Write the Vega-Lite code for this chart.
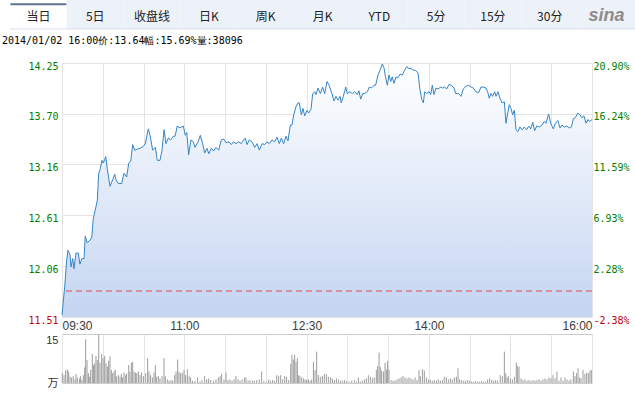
{
  "$schema": "https://vega.github.io/schema/vega-lite/v6.json",
  "padding": {"left": 2, "top": 0, "right": 0, "bottom": 0},
  "bounds": "flush",
  "spacing": 17,
  "config": {
    "view": {"stroke": "#cccccc"},
    "background": "#ffffff",
    "axis": {"domain": false, "ticks": false, "title": null}
  },
  "datasets": {
    "price": [
      {"m":0,"p":11.53},{"m":2.0,"p":11.84},{"m":3.5,"p":12.13},{"m":4.4,"p":12.23},{"m":5.9,"p":12.18},{"m":6.6,"p":12.05},{"m":7.9,"p":12.14},{"m":8.8,"p":12.03},{"m":10.3,"p":12.20},{"m":12.0,"p":12.20},{"m":13.2,"p":12.08},{"m":14.7,"p":12.14},{"m":16.2,"p":12.14},{"m":17.1,"p":12.38},{"m":18.6,"p":12.31},{"m":20.6,"p":12.34},{"m":21.9,"p":12.37},{"m":23.0,"p":12.57},{"m":25.0,"p":12.70},{"m":26.0,"p":12.77},{"m":27.0,"p":13.06},{"m":28.0,"p":13.10},{"m":29.4,"p":13.20},{"m":30.4,"p":13.17},{"m":32.2,"p":13.24},{"m":33.3,"p":13.11},{"m":35.3,"p":12.92},{"m":37.3,"p":12.99},{"m":38.8,"p":13.05},{"m":39.7,"p":12.99},{"m":41.4,"p":12.95},{"m":43.9,"p":12.95},{"m":45.6,"p":13.06},{"m":47.6,"p":13.02},{"m":49.1,"p":13.17},{"m":50.6,"p":13.19},{"m":52.0,"p":13.37},{"m":53.5,"p":13.31},{"m":55.4,"p":13.32},{"m":57.4,"p":13.33},{"m":59.8,"p":13.35},{"m":61.3,"p":13.38},{"m":63.5,"p":13.54},{"m":64.8,"p":13.47},{"m":66.7,"p":13.31},{"m":68.7,"p":13.34},{"m":70.1,"p":13.20},{"m":72.1,"p":13.20},{"m":73.6,"p":13.31},{"m":75.1,"p":13.53},{"m":76.5,"p":13.38},{"m":78.2,"p":13.44},{"m":80.0,"p":13.42},{"m":81.9,"p":13.46},{"m":83.2,"p":13.46},{"m":84.8,"p":13.57},{"m":86.8,"p":13.55},{"m":89.3,"p":13.57},{"m":90.7,"p":13.47},{"m":91.8,"p":13.50},{"m":93.2,"p":13.26},{"m":94.9,"p":13.42},{"m":96.6,"p":13.40},{"m":97.9,"p":13.34},{"m":100.1,"p":13.40},{"m":101.8,"p":13.47},{"m":103.5,"p":13.38},{"m":105.0,"p":13.28},{"m":106.7,"p":13.33},{"m":108.0,"p":13.27},{"m":109.9,"p":13.33},{"m":111.6,"p":13.30},{"m":113.3,"p":13.34},{"m":115.3,"p":13.31},{"m":117.2,"p":13.42},{"m":119.0,"p":13.43},{"m":120.7,"p":13.39},{"m":122.7,"p":13.40},{"m":124.6,"p":13.37},{"m":126.3,"p":13.40},{"m":128.0,"p":13.38},{"m":130.0,"p":13.40},{"m":131.9,"p":13.38},{"m":133.7,"p":13.42},{"m":134.9,"p":13.44},{"m":136.1,"p":13.37},{"m":137.8,"p":13.42},{"m":139.8,"p":13.40},{"m":141.8,"p":13.34},{"m":143.5,"p":13.38},{"m":145.2,"p":13.31},{"m":147.2,"p":13.38},{"m":149.2,"p":13.37},{"m":150.8,"p":13.40},{"m":152.5,"p":13.38},{"m":154.5,"p":13.42},{"m":156.5,"p":13.40},{"m":158.2,"p":13.45},{"m":159.9,"p":13.38},{"m":161.4,"p":13.44},{"m":163.1,"p":13.38},{"m":164.8,"p":13.46},{"m":166.3,"p":13.41},{"m":168.0,"p":13.58},{"m":169.2,"p":13.58},{"m":170.5,"p":13.69},{"m":172.2,"p":13.78},{"m":173.7,"p":13.82},{"m":174.6,"p":13.82},{"m":176.1,"p":13.69},{"m":177.3,"p":13.76},{"m":178.6,"p":13.68},{"m":180.3,"p":13.74},{"m":181.5,"p":13.71},{"m":183.2,"p":13.75},{"m":184.5,"p":13.92},{"m":186.0,"p":13.94},{"m":186.9,"p":13.91},{"m":188.4,"p":13.98},{"m":190.1,"p":13.92},{"m":191.8,"p":13.99},{"m":193.3,"p":13.92},{"m":195.0,"p":14.05},{"m":196.5,"p":14.01},{"m":198.2,"p":13.94},{"m":200.2,"p":13.84},{"m":201.6,"p":13.89},{"m":203.1,"p":13.85},{"m":204.6,"p":13.89},{"m":205.5,"p":13.82},{"m":207.0,"p":13.89},{"m":208.8,"p":13.99},{"m":209.9,"p":13.92},{"m":211.9,"p":13.94},{"m":213.6,"p":13.92},{"m":215.4,"p":13.94},{"m":217.3,"p":13.91},{"m":218.5,"p":13.95},{"m":219.8,"p":13.86},{"m":221.3,"p":13.92},{"m":222.7,"p":13.92},{"m":224.7,"p":13.94},{"m":226.1,"p":13.99},{"m":227.6,"p":13.98},{"m":229.6,"p":14.01},{"m":230.8,"p":14.01},{"m":232.5,"p":14.12},{"m":234.0,"p":14.17},{"m":235.7,"p":14.24},{"m":236.9,"p":14.20},{"m":238.2,"p":14.09},{"m":239.4,"p":14.01},{"m":240.6,"p":14.12},{"m":241.9,"p":14.05},{"m":243.0,"p":14.10},{"m":244.3,"p":14.03},{"m":245.8,"p":14.10},{"m":247.2,"p":14.09},{"m":248.7,"p":14.13},{"m":250.4,"p":14.12},{"m":251.7,"p":14.16},{"m":253.6,"p":14.21},{"m":255.3,"p":14.19},{"m":257.0,"p":14.19},{"m":259.0,"p":14.17},{"m":260.3,"p":14.17},{"m":262.0,"p":14.14},{"m":263.4,"p":13.96},{"m":264.7,"p":13.86},{"m":265.9,"p":13.82},{"m":266.9,"p":13.94},{"m":268.4,"p":13.92},{"m":270.1,"p":13.94},{"m":271.3,"p":13.91},{"m":272.5,"p":14.01},{"m":273.7,"p":13.91},{"m":275.2,"p":13.98},{"m":276.7,"p":13.97},{"m":278.7,"p":13.99},{"m":280.1,"p":13.98},{"m":281.6,"p":13.99},{"m":283.1,"p":13.97},{"m":284.8,"p":14.02},{"m":286.5,"p":14.01},{"m":288.5,"p":13.98},{"m":289.7,"p":13.92},{"m":291.9,"p":13.92},{"m":293.6,"p":13.89},{"m":295.3,"p":13.97},{"m":297.3,"p":14.00},{"m":299.3,"p":14.01},{"m":301.0,"p":13.99},{"m":302.7,"p":13.98},{"m":304.6,"p":13.94},{"m":306.6,"p":13.93},{"m":308.3,"p":13.99},{"m":310.0,"p":13.99},{"m":312.0,"p":13.98},{"m":313.2,"p":13.94},{"m":314.4,"p":13.87},{"m":315.7,"p":13.92},{"m":316.9,"p":13.89},{"m":318.4,"p":13.94},{"m":319.4,"p":13.89},{"m":320.8,"p":13.94},{"m":322.3,"p":13.87},{"m":323.8,"p":13.82},{"m":325.5,"p":13.83},{"m":326.7,"p":13.60},{"m":328.0,"p":13.71},{"m":329.1,"p":13.80},{"m":330.4,"p":13.76},{"m":331.6,"p":13.69},{"m":332.8,"p":13.74},{"m":334.1,"p":13.53},{"m":335.5,"p":13.51},{"m":337.0,"p":13.56},{"m":338.5,"p":13.53},{"m":340.2,"p":13.56},{"m":341.9,"p":13.53},{"m":343.4,"p":13.57},{"m":344.9,"p":13.54},{"m":346.4,"p":13.61},{"m":347.8,"p":13.52},{"m":349.3,"p":13.57},{"m":351.2,"p":13.56},{"m":353.2,"p":13.58},{"m":354.9,"p":13.62},{"m":356.1,"p":13.60},{"m":358.1,"p":13.70},{"m":359.6,"p":13.60},{"m":361.5,"p":13.54},{"m":363.0,"p":13.60},{"m":364.8,"p":13.63},{"m":366.5,"p":13.55},{"m":367.9,"p":13.58},{"m":369.6,"p":13.56},{"m":371.4,"p":13.57},{"m":373.3,"p":13.55},{"m":374.8,"p":13.56},{"m":376.3,"p":13.65},{"m":377.7,"p":13.66},{"m":379.5,"p":13.71},{"m":381.2,"p":13.69},{"m":382.6,"p":13.66},{"m":384.1,"p":13.68},{"m":385.6,"p":13.60},{"m":387.1,"p":13.64},{"m":388.1,"p":13.62},{"m":390,"p":13.64}
    ],
    "vol": [
      {"m":0.2,"v":3.0},{"m":1.5,"v":2.4},{"m":2.7,"v":3.8},{"m":3.9,"v":4.2},{"m":4.9,"v":3.5},{"m":5.9,"v":1.9},{"m":7.1,"v":1.7},{"m":8.3,"v":2.1},{"m":9.6,"v":1.1},{"m":10.3,"v":2.8},{"m":11.3,"v":1.7},{"m":12.8,"v":1.4},{"m":13.7,"v":2.1},{"m":14.7,"v":0.9},{"m":15.7,"v":2.4},{"m":16.7,"v":4.8},{"m":17.4,"v":13.4},{"m":18.4,"v":7.0},{"m":19.4,"v":3.0},{"m":20.1,"v":1.9},{"m":21.1,"v":4.0},{"m":22.3,"v":8.9},{"m":23.1,"v":5.5},{"m":24.0,"v":6.0},{"m":25.0,"v":8.3},{"m":26.0,"v":7.0},{"m":27.0,"v":14.8},{"m":28.0,"v":6.2},{"m":29.2,"v":8.9},{"m":30.2,"v":7.6},{"m":31.4,"v":8.3},{"m":32.4,"v":6.0},{"m":33.4,"v":5.0},{"m":34.3,"v":6.8},{"m":35.3,"v":8.1},{"m":36.3,"v":4.0},{"m":37.3,"v":3.0},{"m":38.3,"v":3.5},{"m":39.2,"v":4.0},{"m":40.2,"v":2.1},{"m":41.5,"v":2.4},{"m":42.7,"v":1.9},{"m":43.7,"v":2.8},{"m":44.6,"v":1.7},{"m":45.6,"v":3.2},{"m":46.6,"v":2.4},{"m":47.6,"v":3.0},{"m":49.1,"v":5.5},{"m":50.0,"v":3.5},{"m":51.0,"v":6.2},{"m":52.0,"v":6.5},{"m":53.0,"v":3.5},{"m":54.0,"v":3.2},{"m":55.0,"v":3.0},{"m":56.2,"v":3.5},{"m":57.4,"v":2.4},{"m":58.6,"v":3.2},{"m":59.9,"v":2.1},{"m":61.6,"v":3.0},{"m":63.0,"v":7.6},{"m":64.0,"v":3.5},{"m":65.2,"v":2.4},{"m":66.5,"v":1.7},{"m":67.7,"v":3.2},{"m":68.7,"v":5.5},{"m":69.7,"v":1.9},{"m":70.9,"v":2.1},{"m":72.1,"v":1.4},{"m":73.6,"v":2.1},{"m":75.1,"v":7.6},{"m":76.0,"v":2.1},{"m":77.5,"v":1.1},{"m":78.7,"v":0.7},{"m":80.2,"v":0.9},{"m":81.4,"v":0.7},{"m":82.9,"v":2.4},{"m":83.9,"v":3.5},{"m":85.1,"v":7.2},{"m":86.1,"v":3.5},{"m":87.3,"v":3.0},{"m":88.5,"v":3.2},{"m":89.8,"v":4.0},{"m":91.0,"v":2.4},{"m":92.2,"v":4.2},{"m":93.5,"v":2.1},{"m":94.7,"v":1.7},{"m":96.1,"v":0.7},{"m":97.9,"v":0.7},{"m":99.8,"v":1.7},{"m":101.5,"v":0.4},{"m":103.0,"v":0.9},{"m":105.0,"v":2.1},{"m":106.5,"v":1.1},{"m":107.9,"v":1.4},{"m":109.4,"v":0.9},{"m":111.4,"v":0.7},{"m":113.3,"v":1.1},{"m":115.0,"v":1.7},{"m":116.3,"v":2.1},{"m":117.5,"v":2.8},{"m":119.2,"v":1.1},{"m":120.7,"v":3.2},{"m":122.1,"v":0.9},{"m":123.6,"v":1.1},{"m":125.1,"v":0.7},{"m":126.6,"v":1.1},{"m":128.0,"v":2.1},{"m":129.5,"v":1.1},{"m":131.0,"v":0.7},{"m":132.5,"v":1.1},{"m":134.2,"v":1.7},{"m":135.4,"v":1.7},{"m":136.9,"v":0.7},{"m":138.3,"v":0.9},{"m":140.1,"v":0.7},{"m":141.5,"v":0.7},{"m":143.3,"v":0.9},{"m":145.2,"v":1.1},{"m":146.9,"v":3.5},{"m":148.6,"v":0.7},{"m":150.6,"v":0.4},{"m":152.1,"v":1.1},{"m":153.5,"v":0.7},{"m":155.0,"v":0.9},{"m":156.5,"v":0.7},{"m":158.0,"v":2.4},{"m":159.4,"v":2.1},{"m":160.9,"v":2.4},{"m":162.4,"v":1.1},{"m":163.9,"v":2.1},{"m":165.3,"v":1.9},{"m":166.8,"v":0.9},{"m":168.3,"v":5.8},{"m":169.2,"v":8.6},{"m":170.2,"v":7.2},{"m":171.2,"v":8.6},{"m":172.2,"v":6.5},{"m":173.2,"v":7.6},{"m":174.1,"v":2.4},{"m":175.1,"v":2.1},{"m":176.4,"v":1.7},{"m":177.6,"v":1.4},{"m":178.8,"v":1.1},{"m":180.0,"v":0.9},{"m":181.3,"v":1.1},{"m":182.5,"v":0.7},{"m":183.7,"v":1.1},{"m":185.0,"v":6.5},{"m":186.2,"v":4.0},{"m":187.4,"v":9.6},{"m":188.6,"v":2.4},{"m":190.1,"v":1.9},{"m":191.6,"v":2.1},{"m":193.0,"v":2.8},{"m":194.5,"v":2.8},{"m":196.0,"v":1.9},{"m":197.5,"v":1.7},{"m":198.9,"v":1.4},{"m":200.4,"v":0.9},{"m":201.9,"v":1.4},{"m":203.3,"v":1.1},{"m":204.8,"v":0.7},{"m":206.3,"v":0.7},{"m":207.8,"v":0.9},{"m":209.2,"v":0.6},{"m":211.2,"v":0.4},{"m":213.2,"v":0.7},{"m":215.1,"v":0.9},{"m":216.6,"v":0.4},{"m":218.1,"v":1.7},{"m":219.5,"v":0.4},{"m":221.0,"v":0.7},{"m":222.5,"v":1.1},{"m":223.9,"v":1.4},{"m":225.4,"v":2.4},{"m":226.9,"v":1.9},{"m":228.4,"v":1.4},{"m":229.8,"v":1.7},{"m":231.3,"v":4.0},{"m":232.3,"v":5.2},{"m":233.3,"v":9.3},{"m":234.2,"v":5.0},{"m":235.2,"v":3.8},{"m":236.5,"v":3.5},{"m":237.7,"v":6.2},{"m":238.7,"v":4.2},{"m":239.6,"v":6.8},{"m":240.6,"v":4.0},{"m":242.1,"v":0.9},{"m":243.6,"v":0.7},{"m":245.0,"v":0.7},{"m":246.5,"v":1.1},{"m":248.0,"v":1.4},{"m":249.5,"v":1.7},{"m":250.9,"v":2.1},{"m":252.4,"v":1.7},{"m":253.9,"v":1.4},{"m":255.3,"v":1.7},{"m":256.8,"v":1.4},{"m":258.3,"v":1.1},{"m":259.8,"v":1.7},{"m":261.2,"v":0.9},{"m":262.7,"v":4.0},{"m":263.7,"v":2.1},{"m":265.2,"v":4.2},{"m":266.6,"v":3.8},{"m":268.1,"v":1.7},{"m":269.6,"v":1.1},{"m":271.0,"v":0.9},{"m":272.5,"v":0.7},{"m":274.0,"v":0.9},{"m":275.5,"v":0.7},{"m":276.9,"v":1.1},{"m":278.4,"v":0.7},{"m":279.9,"v":0.9},{"m":281.3,"v":1.9},{"m":282.8,"v":1.7},{"m":284.3,"v":1.1},{"m":285.8,"v":1.4},{"m":287.2,"v":1.1},{"m":288.7,"v":1.7},{"m":290.2,"v":1.9},{"m":291.4,"v":4.5},{"m":292.6,"v":1.1},{"m":294.1,"v":0.9},{"m":295.6,"v":0.7},{"m":297.0,"v":0.7},{"m":298.5,"v":0.9},{"m":300.0,"v":0.7},{"m":301.4,"v":0.4},{"m":302.9,"v":0.4},{"m":304.4,"v":0.6},{"m":305.9,"v":0.4},{"m":307.3,"v":0.4},{"m":308.8,"v":0.6},{"m":310.3,"v":0.4},{"m":311.8,"v":0.4},{"m":313.2,"v":1.1},{"m":314.7,"v":1.4},{"m":316.2,"v":0.9},{"m":317.6,"v":0.7},{"m":319.1,"v":0.9},{"m":320.6,"v":0.7},{"m":322.5,"v":2.4},{"m":324.0,"v":2.1},{"m":325.5,"v":9.6},{"m":326.5,"v":3.0},{"m":327.5,"v":1.7},{"m":328.4,"v":2.1},{"m":329.9,"v":1.4},{"m":331.4,"v":1.1},{"m":332.9,"v":1.9},{"m":334.3,"v":6.2},{"m":335.3,"v":5.2},{"m":336.3,"v":5.0},{"m":337.8,"v":1.4},{"m":339.2,"v":0.9},{"m":340.7,"v":1.1},{"m":342.2,"v":0.7},{"m":343.6,"v":0.9},{"m":345.1,"v":0.7},{"m":346.6,"v":0.9},{"m":348.1,"v":0.7},{"m":349.5,"v":0.9},{"m":351.0,"v":1.1},{"m":352.5,"v":0.7},{"m":353.9,"v":1.1},{"m":355.4,"v":1.4},{"m":356.9,"v":1.1},{"m":358.4,"v":1.7},{"m":359.8,"v":1.4},{"m":361.3,"v":2.4},{"m":362.8,"v":1.4},{"m":364.2,"v":3.5},{"m":365.7,"v":0.7},{"m":367.2,"v":1.7},{"m":368.7,"v":0.7},{"m":370.1,"v":1.7},{"m":371.6,"v":1.1},{"m":373.1,"v":0.7},{"m":374.5,"v":1.1},{"m":376.3,"v":3.5},{"m":377.5,"v":2.1},{"m":378.7,"v":3.0},{"m":379.7,"v":4.5},{"m":380.9,"v":1.7},{"m":381.9,"v":1.4},{"m":383.4,"v":4.0},{"m":384.8,"v":2.8},{"m":386.1,"v":3.2},{"m":387.3,"v":3.0},{"m":388.5,"v":3.8},{"m":389.5,"v":4.0}
    ]
  },
  "vconcat": [
    {
      "width": 530,
      "height": 46,
      "view": {"stroke": null},
      "encoding": {
        "x": {"field": "tab", "type": "nominal", "axis": null,
              "scale": {"type": "band", "domain": ["当日","5日","收盘线","日K","周K","月K","YTD","5分","15分","30分","sina"], "range": [-52, 573], "paddingInner": 0, "paddingOuter": 0}},
        "y": {"field": "row", "type": "nominal", "axis": null,
              "scale": {"type": "band", "domain": ["bar","info"], "range": [0, 58], "paddingInner": 0, "paddingOuter": 0}}
      },
      "layer": [
        {
          "data": {"values": [
            {"tab":"当日","row":"bar"},{"tab":"5日","row":"bar"},{"tab":"收盘线","row":"bar"},{"tab":"日K","row":"bar"},{"tab":"周K","row":"bar"},{"tab":"月K","row":"bar"},{"tab":"YTD","row":"bar"},{"tab":"5分","row":"bar"},{"tab":"15分","row":"bar"},{"tab":"30分","row":"bar"},{"tab":"sina","row":"bar"}
          ]},
          "layer": [
            {
              "mark": {"type": "rect"},
              "encoding": {
                "color": {"condition": {"test": "datum.tab == '当日'", "value": "#ffffff"}, "value": "#edf2f9"}
              }
            },
            {
              "mark": {"type": "tick", "orient": "horizontal", "size": 57, "thickness": 1, "color": "#c9d4e3"},
              "encoding": {
                "y": {"field": "row", "type": "nominal", "bandPosition": 1}
              }
            },
            {
              "transform": [{"filter": "datum.tab == '当日'"}],
              "mark": {"type": "tick", "orient": "horizontal", "size": 56, "thickness": 2, "color": "#1c3766"},
              "encoding": {
                "y": {"field": "row", "type": "nominal", "bandPosition": 0.15}
              }
            },
            {
              "transform": [{"filter": "datum.tab != 'sina'"}],
              "mark": {"type": "text", "font": "Noto Sans CJK SC", "fontSize": 12, "color": "#222222", "baseline": "middle"},
              "encoding": {
                "y": {"field": "row", "type": "nominal", "bandPosition": 0.57},
                "text": {"field": "tab"}
              }
            },
            {
              "transform": [{"filter": "datum.tab == 'sina'"}],
              "mark": {"type": "text", "font": "Liberation Sans", "fontSize": 18, "fontStyle": "italic", "fontWeight": "bold", "color": "#8c8c8c", "baseline": "middle"},
              "encoding": {
                "y": {"field": "row", "type": "nominal", "bandPosition": 0.55},
                "text": {"field": "tab"}
              }
            }
          ]
        },
        {
          "data": {"values": [{"tab": "当日", "row": "info", "t": "2014/01/02 16:00价:13.64幅:15.69%量:38096"}]},
          "mark": {"type": "text", "align": "left", "baseline": "middle", "dx": -8, "font": "DejaVu Sans Mono", "fontSize": 10, "color": "#000000"},
          "encoding": {
            "x": {"field": "tab", "type": "nominal", "bandPosition": 0},
            "y": {"field": "row", "type": "nominal", "bandPosition": 0.4},
            "text": {"field": "t"}
          }
        }
      ]
    },
    {
      "width": 530,
      "height": 254,
      "layer": [
        {
          "layer": [
            {
              "data": {"name": "price"},
              "mark": {"type": "area", "line": false, "opacity": 1, "fill": {"gradient": "linear", "x1": 0, "y1": 0, "x2": 0, "y2": 1, "stops": [{"offset": 0, "color": "#ffffff"}, {"offset": 1, "color": "#c4d5f1"}]}},
              "encoding": {
                "x": {"field": "m", "type": "quantitative",
                      "scale": {"domain": [0, 390], "nice": false, "zero": false},
                      "axis": {"values": [0,30,60,90,120,150,180,210,240,270,300,330,360,390],
                               "labels": false, "grid": true, "gridColor": "#e3e3e3"}},
                "y": {"field": "p", "type": "quantitative",
                      "scale": {"domain": [11.51, 14.25], "nice": false, "zero": false},
                      "axis": {"values": [11.51, 12.06, 12.61, 13.16, 13.70, 14.25], "format": ".2f",
                               "labelColor": {"condition": {"test": "datum.value < 11.6", "value": "#c00000"}, "value": "#008000"},
                               "labelFont": "DejaVu Sans Mono", "labelFontSize": 10, "labelPadding": 4, "labelOffset": 3,
                               "grid": true, "gridColor": "#e3e3e3", "labelOverlap": false}},
                "y2": {"datum": 11.51}
              }
            },
            {
              "data": {"name": "price"},
              "mark": {"type": "line", "color": "#3585c7", "strokeWidth": 1},
              "encoding": {
                "x": {"field": "m", "type": "quantitative"},
                "y": {"field": "p", "type": "quantitative"}
              }
            },
            {
              "data": {"values": [{"p": 11.79}]},
              "mark": {"type": "rule", "color": "#e5484f", "strokeDash": [6, 4], "strokeWidth": 1},
              "encoding": {
                "y": {"field": "p", "type": "quantitative"}
              }
            }
          ]
        },
        {
          "data": {"values": [{"pct": -2.38}, {"pct": 20.90}]},
          "mark": {"type": "point", "opacity": 0},
          "encoding": {
            "y": {"field": "pct", "type": "quantitative",
                  "scale": {"domain": [-2.38, 20.90], "nice": false, "zero": false},
                  "axis": {"orient": "right", "values": [-2.38, 2.28, 6.93, 11.59, 16.24, 20.90],
                           "labelExpr": "(datum.value < 0 ? '-' : '') + format(abs(datum.value), '.2f') + '%'",
                           "labelColor": {"condition": {"test": "datum.value < 0", "value": "#c00000"}, "value": "#008000"},
                           "labelFont": "DejaVu Sans Mono", "labelFontSize": 10, "labelPadding": 1, "labelOffset": 3,
                           "grid": false, "labelOverlap": false}}
          }
        }
      ],
      "resolve": {"scale": {"y": "independent"}}
    },
    {
      "width": 530,
      "height": 49,
      "data": {"name": "vol"},
      "mark": {"type": "rule", "color": "#9c9c9c", "strokeWidth": 1},
      "encoding": {
        "x": {"field": "m", "type": "quantitative",
              "scale": {"domain": [0, 390], "nice": false, "zero": false},
              "axis": {"orient": "top", "values": [0,30,60,90,120,150,180,210,240,270,300,330,360,390],
                       "labelExpr": "datum.value==0?'09:30':datum.value==90?'11:00':datum.value==180?'12:30':datum.value==270?'14:00':datum.value==390?'16:00':''",
                       "labelFlush": true, "labelOverlap": false, "grid": true, "gridColor": "#e3e3e3",
                       "labelFont": "Liberation Sans", "labelFontSize": 12, "labelColor": "#3c3c3c", "labelPadding": 2}},
        "y": {"field": "v", "type": "quantitative",
              "scale": {"domain": [0, 15], "nice": false},
              "axis": {"values": [0, 15], "labelExpr": "datum.value == 15 ? '15' : '万'", "grid": false,
                       "labelFont": "Liberation Sans, Noto Sans CJK SC", "labelFontSize": 11, "labelColor": "#333333", "labelPadding": 4,
                       "labelBaseline": {"condition": {"test": "datum.value == 15", "value": "top"}, "value": "middle"}}},
        "y2": {"datum": 0}
      }
    }
  ]
}
